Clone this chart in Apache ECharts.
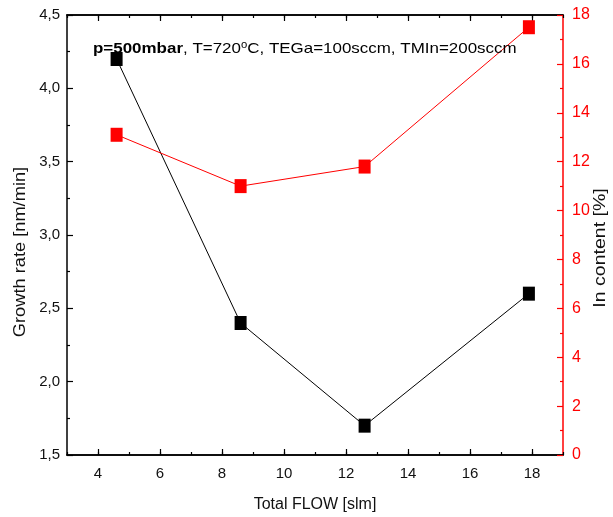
<!DOCTYPE html>
<html>
<head>
<meta charset="utf-8">
<script src="https://cdn.jsdelivr.net/npm/echarts@6/dist/echarts.min.js"></script>
<style>html,body{margin:0;padding:0;background:#fff;}#c{width:613px;height:517px;}</style>
</head>
<body>
<div id="c"></div>
<script>
// Data
const flow = [4.6, 8.6, 12.6, 17.9];
const growthRate = [4.2, 2.4, 1.7, 2.6];
const inContent = [13.1, 11.0, 11.8, 17.5];
const xMajorTicks = [4, 6, 8, 10, 12, 14, 16, 18];
const xTitle = 'Total FLOW [slm]';
const yLeftTitle = 'Growth rate [nm/min]';
const yRightTitle = 'In content [%]';

const chart = echarts.init(document.getElementById('c'), null, {renderer: 'canvas'});
const FONT = '"Liberation Sans", Arial, sans-serif';
const grid = {left: 67, right: 50, top: 15, bottom: 62};

function xAx(pos, major, labels) {
  return {
    type: 'value', position: pos, min: 3, max: 19,
    interval: major ? undefined : 1,
    axisLine: {show: true, onZero: false, lineStyle: {color: '#000', width: 1.5}},
    axisTick: major
      ? {show: true, inside: true, length: 6, customValues: xMajorTicks, lineStyle: {color: '#000', width: 1.2}}
      : {show: true, inside: true, length: 3, lineStyle: {color: '#000', width: 1.2}},
    axisLabel: labels
      ? {show: true, customValues: xMajorTicks, margin: 11, fontFamily: FONT, fontSize: 15, color: '#111'}
      : {show: false},
    splitLine: {show: false}
  };
}

const option = {
  animation: false,
  backgroundColor: '#fff',
  grid: grid,
  xAxis: [
    xAx('bottom', true, true),
    xAx('bottom', false, false),
    xAx('top', true, false),
    xAx('top', false, false)
  ],
  yAxis: [
    {
      type: 'value', position: 'left', min: 1.5, max: 4.5, interval: 0.5,
      axisLine: {show: true, onZero: false, lineStyle: {color: '#000', width: 1.5}},
      axisTick: {show: true, inside: true, length: 6, lineStyle: {color: '#000', width: 1.2}},
      minorTick: {show: true, splitNumber: 2, length: 3, lineStyle: {color: '#000', width: 1.2}},
      axisLabel: {margin: 7, fontFamily: FONT, fontSize: 15, color: '#111',
        formatter: v => v.toFixed(1).replace('.', ',')},
      splitLine: {show: false}
    },
    {
      type: 'value', position: 'right', min: 0, max: 18, interval: 2,
      axisLine: {show: true, onZero: false, lineStyle: {color: '#ff0000', width: 1.5}},
      axisTick: {show: true, inside: true, length: 6, lineStyle: {color: '#ff0000', width: 1.2}},
      minorTick: {show: true, splitNumber: 2, length: 3, lineStyle: {color: '#ff0000', width: 1.2}},
      axisLabel: {margin: 9, fontFamily: FONT, fontSize: 16, color: '#ff0000'},
      splitLine: {show: false}
    }
  ],
  series: [
    {
      type: 'line', xAxisIndex: 0, yAxisIndex: 0,
      data: flow.map((x, i) => [x, growthRate[i]]),
      symbol: 'rect', symbolSize: [12, 14],
      lineStyle: {color: '#000', width: 1},
      itemStyle: {color: '#000'}
    },
    {
      type: 'line', xAxisIndex: 0, yAxisIndex: 1,
      data: flow.map((x, i) => [x, inContent[i]]),
      symbol: 'rect', symbolSize: [12, 14],
      lineStyle: {color: '#ff0000', width: 1},
      itemStyle: {color: '#ff0000'}
    }
  ],
  graphic: [
    {
      type: 'text', x: 93, y: 49, scaleX: 1.13, z: 100,
      style: {
        text: '{b|p=500mbar}, T=720{s|o}C, TEGa=100sccm, TMIn=200sccm',
        font: '15px ' + FONT, fill: '#000', align: 'left', verticalAlign: 'middle',
        rich: {
          b: {fontWeight: 'bold', fontSize: 15, fontFamily: FONT},
          s: {fontSize: 10, fontFamily: FONT, verticalAlign: 'top', padding: [0, 0, 8, 0]}
        }
      }
    },
    {
      type: 'text', x: 315, y: 505,
      style: {text: xTitle, font: '16px ' + FONT, fill: '#111', align: 'center', verticalAlign: 'middle'}
    },
    {
      type: 'text', x: 21, y: 252, rotation: Math.PI / 2, scaleX: 1.14,
      style: {text: yLeftTitle, font: '16px ' + FONT, fill: '#111', align: 'center', verticalAlign: 'middle'}
    },
    {
      type: 'text', x: 601, y: 248, rotation: Math.PI / 2, scaleX: 1.22,
      style: {text: yRightTitle, font: '16px ' + FONT, fill: '#111', align: 'center', verticalAlign: 'middle'}
    }
  ]
};
chart.setOption(option);
</script>
</body>
</html>
